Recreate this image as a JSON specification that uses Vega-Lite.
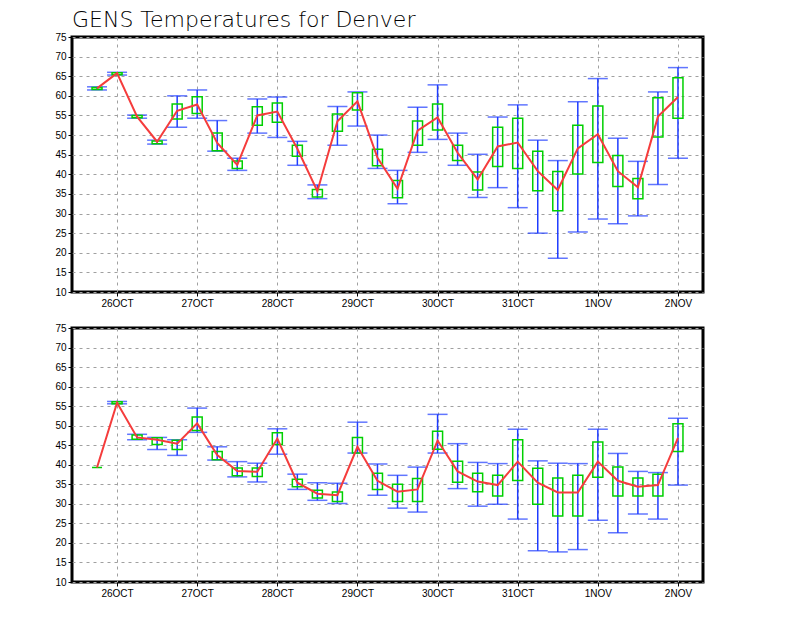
{
  "$schema": "https://vega.github.io/schema/vega-lite/v6.json",
  "padding": {"left": 53, "top": 7, "right": 5, "bottom": 5},
  "background": "white",
  "datasets": {
    "top": [
      {"t": "2025-10-25T18:00:00Z", "min": 61.5, "q1": 61.6, "mean": 61.9, "q3": 62.1, "max": 62.3},
      {"t": "2025-10-26T00:00:00Z", "min": 65.3, "q1": 65.4, "mean": 65.8, "q3": 65.9, "max": 66.0},
      {"t": "2025-10-26T06:00:00Z", "min": 54.3, "q1": 54.4, "mean": 54.7, "q3": 55.0, "max": 55.1},
      {"t": "2025-10-26T12:00:00Z", "min": 47.7, "q1": 47.8, "mean": 48.3, "q3": 48.5, "max": 48.7},
      {"t": "2025-10-26T18:00:00Z", "min": 52.0, "q1": 54.1, "mean": 56.2, "q3": 57.9, "max": 60.0},
      {"t": "2025-10-27T00:00:00Z", "min": 54.3, "q1": 55.5, "mean": 57.8, "q3": 59.8, "max": 61.5},
      {"t": "2025-10-27T06:00:00Z", "min": 45.9, "q1": 46.0, "mean": 48.0, "q3": 50.5, "max": 53.7},
      {"t": "2025-10-27T12:00:00Z", "min": 41.0, "q1": 41.5, "mean": 42.4, "q3": 43.4, "max": 44.1},
      {"t": "2025-10-27T18:00:00Z", "min": 50.5, "q1": 52.5, "mean": 55.0, "q3": 57.2, "max": 59.2},
      {"t": "2025-10-28T00:00:00Z", "min": 49.4, "q1": 53.3, "mean": 56.0, "q3": 58.2, "max": 59.7},
      {"t": "2025-10-28T06:00:00Z", "min": 42.3, "q1": 44.6, "mean": 46.5, "q3": 47.4, "max": 48.4},
      {"t": "2025-10-28T12:00:00Z", "min": 33.8, "q1": 34.2, "mean": 35.7, "q3": 36.1, "max": 37.3},
      {"t": "2025-10-28T18:00:00Z", "min": 47.4, "q1": 51.0, "mean": 53.5, "q3": 55.4, "max": 57.3},
      {"t": "2025-10-29T00:00:00Z", "min": 52.3, "q1": 56.4, "mean": 58.6, "q3": 60.8, "max": 61.0},
      {"t": "2025-10-29T06:00:00Z", "min": 41.5, "q1": 42.2, "mean": 44.2, "q3": 46.4, "max": 50.0},
      {"t": "2025-10-29T12:00:00Z", "min": 32.5, "q1": 34.0, "mean": 36.3, "q3": 38.4, "max": 41.0},
      {"t": "2025-10-29T18:00:00Z", "min": 45.6, "q1": 47.4, "mean": 51.1, "q3": 53.6, "max": 57.1},
      {"t": "2025-10-30T00:00:00Z", "min": 48.9, "q1": 51.3, "mean": 54.5, "q3": 57.9, "max": 62.8},
      {"t": "2025-10-30T06:00:00Z", "min": 42.3, "q1": 43.5, "mean": 45.5, "q3": 47.4, "max": 50.5},
      {"t": "2025-10-30T12:00:00Z", "min": 34.1, "q1": 36.0, "mean": 38.7, "q3": 40.6, "max": 45.1},
      {"t": "2025-10-30T18:00:00Z", "min": 36.6, "q1": 42.0, "mean": 47.1, "q3": 52.0, "max": 54.6},
      {"t": "2025-10-31T00:00:00Z", "min": 31.5, "q1": 41.5, "mean": 48.1, "q3": 54.3, "max": 57.7},
      {"t": "2025-10-31T06:00:00Z", "min": 25.0, "q1": 35.8, "mean": 40.8, "q3": 45.9, "max": 48.7},
      {"t": "2025-10-31T12:00:00Z", "min": 18.6, "q1": 30.7, "mean": 36.0, "q3": 40.7, "max": 43.5},
      {"t": "2025-10-31T18:00:00Z", "min": 25.3, "q1": 40.1, "mean": 46.6, "q3": 52.5, "max": 58.5},
      {"t": "2025-11-01T00:00:00Z", "min": 28.6, "q1": 43.0, "mean": 50.2, "q3": 57.4, "max": 64.4},
      {"t": "2025-11-01T06:00:00Z", "min": 27.4, "q1": 36.9, "mean": 40.8, "q3": 44.8, "max": 49.2},
      {"t": "2025-11-01T12:00:00Z", "min": 29.4, "q1": 33.8, "mean": 36.7, "q3": 38.9, "max": 43.3},
      {"t": "2025-11-01T18:00:00Z", "min": 37.4, "q1": 49.5, "mean": 54.7, "q3": 59.5, "max": 61.0},
      {"t": "2025-11-02T00:00:00Z", "min": 44.1, "q1": 54.3, "mean": 59.7, "q3": 64.6, "max": 67.2}
    ],
    "bottom": [
      {"t": "2025-10-25T18:00:00Z", "min": null, "q1": 39.3, "mean": 39.3, "q3": 39.3, "max": null},
      {"t": "2025-10-26T00:00:00Z", "min": 55.6, "q1": 55.6, "mean": 55.9, "q3": 56.1, "max": 56.2},
      {"t": "2025-10-26T06:00:00Z", "min": 46.4, "q1": 46.5, "mean": 47.0, "q3": 47.6, "max": 47.8},
      {"t": "2025-10-26T12:00:00Z", "min": 43.9, "q1": 45.2, "mean": 46.4, "q3": 46.9, "max": 47.0},
      {"t": "2025-10-26T18:00:00Z", "min": 42.4, "q1": 43.9, "mean": 45.4, "q3": 46.3, "max": 46.4},
      {"t": "2025-10-27T00:00:00Z", "min": 48.3, "q1": 48.8, "mean": 50.6, "q3": 52.2, "max": 54.5},
      {"t": "2025-10-27T06:00:00Z", "min": 41.2, "q1": 41.3, "mean": 42.5, "q3": 43.4, "max": 44.6},
      {"t": "2025-10-27T12:00:00Z", "min": 36.9, "q1": 37.2, "mean": 38.4, "q3": 39.2, "max": 40.8},
      {"t": "2025-10-27T18:00:00Z", "min": 35.6, "q1": 37.0, "mean": 38.2, "q3": 39.2, "max": 40.4},
      {"t": "2025-10-28T00:00:00Z", "min": 42.7, "q1": 45.2, "mean": 46.7, "q3": 48.2, "max": 49.2},
      {"t": "2025-10-28T06:00:00Z", "min": 33.7, "q1": 34.4, "mean": 35.4, "q3": 36.3, "max": 37.6},
      {"t": "2025-10-28T12:00:00Z", "min": 30.9, "q1": 31.5, "mean": 32.6, "q3": 33.5, "max": 35.4},
      {"t": "2025-10-28T18:00:00Z", "min": 30.1, "q1": 30.6, "mean": 32.2, "q3": 33.0, "max": 35.3},
      {"t": "2025-10-29T00:00:00Z", "min": 43.0, "q1": 43.0, "mean": 44.6, "q3": 47.0, "max": 50.9},
      {"t": "2025-10-29T06:00:00Z", "min": 32.2, "q1": 33.7, "mean": 35.9, "q3": 37.8, "max": 40.2},
      {"t": "2025-10-29T12:00:00Z", "min": 28.9, "q1": 30.6, "mean": 33.1, "q3": 35.0, "max": 37.3},
      {"t": "2025-10-29T18:00:00Z", "min": 27.9, "q1": 30.6, "mean": 33.7, "q3": 36.5, "max": 39.4},
      {"t": "2025-10-30T00:00:00Z", "min": 43.0, "q1": 44.0, "mean": 46.2, "q3": 48.6, "max": 52.9},
      {"t": "2025-10-30T06:00:00Z", "min": 33.9, "q1": 35.5, "mean": 38.3, "q3": 40.9, "max": 45.4},
      {"t": "2025-10-30T12:00:00Z", "min": 29.4, "q1": 33.1, "mean": 35.7, "q3": 37.8, "max": 40.6},
      {"t": "2025-10-30T18:00:00Z", "min": 29.9, "q1": 32.0, "mean": 34.8, "q3": 37.3, "max": 40.3},
      {"t": "2025-10-31T00:00:00Z", "min": 26.1, "q1": 36.0, "mean": 40.8, "q3": 46.4, "max": 49.1},
      {"t": "2025-10-31T06:00:00Z", "min": 18.0, "q1": 29.9, "mean": 35.4, "q3": 39.1, "max": 41.0},
      {"t": "2025-10-31T12:00:00Z", "min": 17.7, "q1": 26.9, "mean": 32.9, "q3": 36.6, "max": 40.4},
      {"t": "2025-10-31T18:00:00Z", "min": 18.3, "q1": 26.9, "mean": 32.9, "q3": 37.3, "max": 40.3},
      {"t": "2025-11-01T00:00:00Z", "min": 25.8, "q1": 36.8, "mean": 40.8, "q3": 45.8, "max": 49.1},
      {"t": "2025-11-01T06:00:00Z", "min": 22.6, "q1": 32.0, "mean": 35.9, "q3": 39.4, "max": 42.9},
      {"t": "2025-11-01T12:00:00Z", "min": 27.4, "q1": 32.0, "mean": 34.4, "q3": 36.6, "max": 38.3},
      {"t": "2025-11-01T18:00:00Z", "min": 26.1, "q1": 32.0, "mean": 34.8, "q3": 37.6, "max": 38.0},
      {"t": "2025-11-02T00:00:00Z", "min": 34.8, "q1": 43.4, "mean": 46.9, "q3": 50.5, "max": 51.9}
    ]
  },
  "vconcat": [
    {
      "title": {"text": "GENS Temperatures for Denver", "anchor": "start", "frame": "group", "fontSize": 22, "fontWeight": 200, "font": "DejaVu Sans", "color": "black", "offset": 0},
      "width": 631,
      "height": 255,
      "data": {"name": "top"},
      "encoding": {
        "x": {"field": "t", "type": "temporal", "title": null,
          "scale": {"type": "utc", "domain": [{"year": 2025, "month": 10, "date": 25, "hours": 12, "utc": true}, {"year": 2025, "month": 11, "date": 2, "hours": 6, "utc": true}]},
          "axis": {"values": [{"year": 2025, "month": 10, "date": 26, "utc": true}, {"year": 2025, "month": 10, "date": 27, "utc": true}, {"year": 2025, "month": 10, "date": 28, "utc": true}, {"year": 2025, "month": 10, "date": 29, "utc": true}, {"year": 2025, "month": 10, "date": 30, "utc": true}, {"year": 2025, "month": 10, "date": 31, "utc": true}, {"year": 2025, "month": 11, "date": 1, "utc": true}, {"year": 2025, "month": 11, "date": 2, "utc": true}],
            "labelExpr": "upper(utcFormat(datum.value, '%-d%b'))"}
        }
      },
      "layer": [
        {"mark": {"type": "rule", "color": "#1e3cff", "strokeWidth": 1.5},
          "encoding": {"y": {"field": "min", "type": "quantitative", "scale": {"domain": [10, 75], "nice": false, "zero": false}, "title": null}, "y2": {"field": "max"}}},
        {"mark": {"type": "tick", "orient": "horizontal", "color": "#1e3cff", "size": 20, "thickness": 1.5},
          "encoding": {"y": {"field": "min", "type": "quantitative"}}},
        {"mark": {"type": "tick", "orient": "horizontal", "color": "#1e3cff", "size": 20, "thickness": 1.5},
          "encoding": {"y": {"field": "max", "type": "quantitative"}}},
        {"mark": {"type": "bar", "size": 10, "fillOpacity": 0, "stroke": "#00d000", "strokeWidth": 1.5},
          "encoding": {"y": {"field": "q1", "type": "quantitative"}, "y2": {"field": "q3"}}},
        {"mark": {"type": "line", "color": "#f53c3c", "strokeWidth": 2},
          "encoding": {"y": {"field": "mean", "type": "quantitative"}}}
      ]
    },
    {
      "width": 631,
      "height": 254,
      "data": {"name": "bottom"},
      "encoding": {
        "x": {"field": "t", "type": "temporal", "title": null,
          "scale": {"type": "utc", "domain": [{"year": 2025, "month": 10, "date": 25, "hours": 12, "utc": true}, {"year": 2025, "month": 11, "date": 2, "hours": 6, "utc": true}]},
          "axis": {"values": [{"year": 2025, "month": 10, "date": 26, "utc": true}, {"year": 2025, "month": 10, "date": 27, "utc": true}, {"year": 2025, "month": 10, "date": 28, "utc": true}, {"year": 2025, "month": 10, "date": 29, "utc": true}, {"year": 2025, "month": 10, "date": 30, "utc": true}, {"year": 2025, "month": 10, "date": 31, "utc": true}, {"year": 2025, "month": 11, "date": 1, "utc": true}, {"year": 2025, "month": 11, "date": 2, "utc": true}],
            "labelExpr": "upper(utcFormat(datum.value, '%-d%b'))"}
        }
      },
      "layer": [
        {"mark": {"type": "rule", "color": "#1e3cff", "strokeWidth": 1.5},
          "encoding": {"y": {"field": "min", "type": "quantitative", "scale": {"domain": [10, 75], "nice": false, "zero": false}, "title": null}, "y2": {"field": "max"}}},
        {"mark": {"type": "tick", "orient": "horizontal", "color": "#1e3cff", "size": 20, "thickness": 1.5},
          "encoding": {"y": {"field": "min", "type": "quantitative"}}},
        {"mark": {"type": "tick", "orient": "horizontal", "color": "#1e3cff", "size": 20, "thickness": 1.5},
          "encoding": {"y": {"field": "max", "type": "quantitative"}}},
        {"mark": {"type": "bar", "size": 10, "fillOpacity": 0, "stroke": "#00d000", "strokeWidth": 1.5},
          "encoding": {"y": {"field": "q1", "type": "quantitative"}, "y2": {"field": "q3"}}},
        {"mark": {"type": "line", "color": "#f53c3c", "strokeWidth": 2},
          "encoding": {"y": {"field": "mean", "type": "quantitative"}}}
      ]
    }
  ],
  "spacing": 36,
  "bounds": "flush",
  "config": {
    "font": "Liberation Sans",
    "view": {"stroke": "black", "strokeWidth": 3},
    "axis": {
      "grid": true,
      "gridColor": "#a0a0a0",
      "gridDash": [3, 4],
      "gridWidth": 1,
      "domain": false,
      "tickColor": "black",
      "tickSize": 4,
      "labelFont": "Liberation Sans",
      "labelFontSize": 10,
      "labelColor": "black",
      "labelPadding": 2,
      "labelOverlap": false,
      "labelBound": false,
      "labelFlush": false,
      "title": null
    },
    "axisQuantitative": {"tickCount": 14}
  }
}
